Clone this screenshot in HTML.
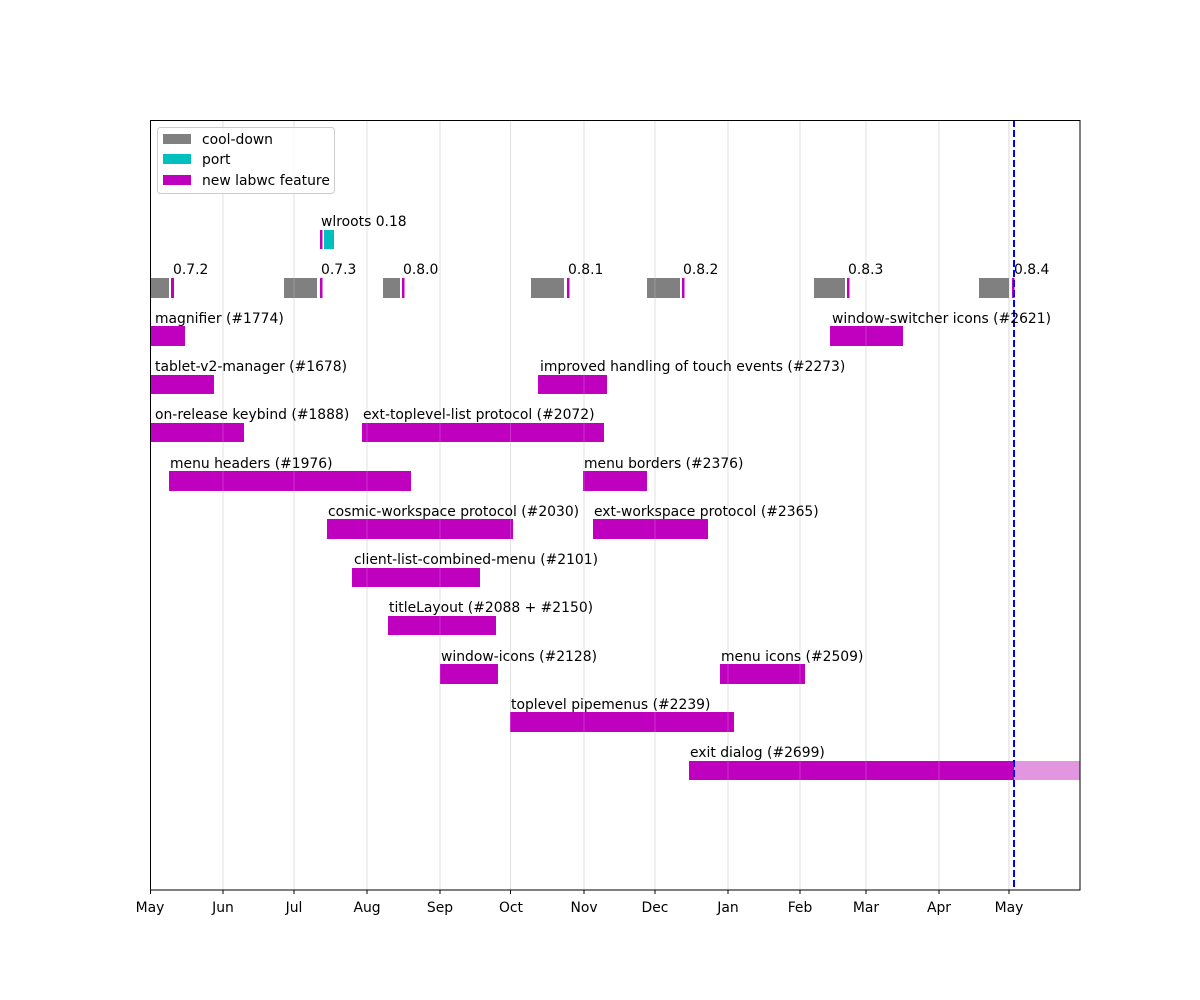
<!DOCTYPE html>
<html><head><meta charset="utf-8"><style>html,body{margin:0;padding:0;background:#fff}svg{display:block}</style></head>
<body>
<svg width="1200" height="1000" xmlns="http://www.w3.org/2000/svg" font-family="DejaVu Sans, Liberation Sans, sans-serif" font-size="13.9" fill="#000">
<rect width="1200" height="1000" fill="#fff"/>
<!-- grid -->
<g stroke="#d9d9d9" stroke-width="1">
<line x1="223" y1="120" x2="223" y2="890"/>
<line x1="294" y1="120" x2="294" y2="890"/>
<line x1="367" y1="120" x2="367" y2="890"/>
<line x1="440" y1="120" x2="440" y2="890"/>
<line x1="510.5" y1="120" x2="510.5" y2="890"/>
<line x1="584" y1="120" x2="584" y2="890"/>
<line x1="655" y1="120" x2="655" y2="890"/>
<line x1="728" y1="120" x2="728" y2="890"/>
<line x1="800" y1="120" x2="800" y2="890"/>
<line x1="866" y1="120" x2="866" y2="890"/>
<line x1="939" y1="120" x2="939" y2="890"/>
<line x1="1009" y1="120" x2="1009" y2="890"/>
</g>
<!-- bars -->
<g>
<rect x="320" y="230" width="2.5" height="19" fill="#bf00bf"/>
<rect x="324" y="230" width="10" height="19" fill="#00bfbf"/>
<g fill="#808080">
<rect x="150" y="278" width="19" height="20"/>
<rect x="284" y="278" width="33" height="20"/>
<rect x="383" y="278" width="17" height="20"/>
<rect x="531" y="278" width="33" height="20"/>
<rect x="647" y="278" width="33" height="20"/>
<rect x="814" y="278" width="31" height="20"/>
<rect x="979" y="278" width="30" height="20"/>
</g>
<g fill="#bf00bf">
<rect x="171" y="278" width="3" height="20"/>
<rect x="320" y="278" width="2.5" height="20"/>
<rect x="402" y="278" width="2.5" height="20"/>
<rect x="567" y="278" width="2.5" height="20"/>
<rect x="682" y="278" width="2.5" height="20"/>
<rect x="847" y="278" width="2.5" height="20"/>
<rect x="1012" y="278" width="2.5" height="20"/>
<rect x="150" y="326" width="35" height="20"/>
<rect x="830" y="326" width="73" height="20"/>
<rect x="150" y="375" width="64" height="19"/>
<rect x="538" y="375" width="69" height="19"/>
<rect x="150" y="423" width="94" height="19"/>
<rect x="362" y="423" width="242" height="19"/>
<rect x="169" y="471" width="242" height="20"/>
<rect x="583" y="471" width="64" height="20"/>
<rect x="327" y="519" width="186" height="20"/>
<rect x="593" y="519" width="115" height="20"/>
<rect x="352" y="568" width="128" height="19"/>
<rect x="388" y="616" width="108" height="19"/>
<rect x="440" y="664" width="58" height="20"/>
<rect x="720" y="664" width="85" height="20"/>
<rect x="510" y="712" width="224" height="20"/>
<rect x="689" y="761" width="325" height="19"/>
</g>
<rect x="1014" y="761" width="66" height="19" fill="#e396e0"/>
</g>
<g stroke="#fff" stroke-width="1" opacity="0.2">
<line x1="223" y1="120" x2="223" y2="890"/>
<line x1="294" y1="120" x2="294" y2="890"/>
<line x1="367" y1="120" x2="367" y2="890"/>
<line x1="440" y1="120" x2="440" y2="890"/>
<line x1="510.5" y1="120" x2="510.5" y2="890"/>
<line x1="584" y1="120" x2="584" y2="890"/>
<line x1="655" y1="120" x2="655" y2="890"/>
<line x1="728" y1="120" x2="728" y2="890"/>
<line x1="800" y1="120" x2="800" y2="890"/>
<line x1="866" y1="120" x2="866" y2="890"/>
<line x1="939" y1="120" x2="939" y2="890"/>
</g>
<line x1="1014" y1="120" x2="1014" y2="890" stroke="#0000ff" stroke-width="2" stroke-dasharray="7,3"/>
<rect x="150.5" y="120.5" width="929.5" height="769.5" fill="none" stroke="#000" stroke-width="1"/>
<!-- legend -->
<rect x="157.5" y="127.5" width="177" height="66" rx="3" fill="#fff" fill-opacity="0.8" stroke="#ccc"/>
<rect x="163" y="134" width="28" height="10" fill="#808080"/>
<rect x="163" y="154" width="28" height="10" fill="#00bfbf"/>
<rect x="163" y="175" width="28" height="10" fill="#bf00bf"/>
<text x="202" y="144">cool-down</text>
<text x="202" y="164">port</text>
<text x="202" y="185">new labwc feature</text>
<!-- labels -->
<text x="321" y="226">wlroots 0.18</text>
<text x="173" y="274">0.7.2</text>
<text x="321" y="274">0.7.3</text>
<text x="403" y="274">0.8.0</text>
<text x="568" y="274">0.8.1</text>
<text x="683" y="274">0.8.2</text>
<text x="848" y="274">0.8.3</text>
<text x="1014" y="274">0.8.4</text>
<text x="155" y="323">magnifier (#1774)</text>
<text x="832" y="323">window-switcher icons (#2621)</text>
<text x="155" y="371">tablet-v2-manager (#1678)</text>
<text x="540" y="371">improved handling of touch events (#2273)</text>
<text x="155" y="419">on-release keybind (#1888)</text>
<text x="363" y="419">ext-toplevel-list protocol (#2072)</text>
<text x="170" y="468">menu headers (#1976)</text>
<text x="584" y="468">menu borders (#2376)</text>
<text x="328" y="516">cosmic-workspace protocol (#2030)</text>
<text x="594" y="516">ext-workspace protocol (#2365)</text>
<text x="354" y="564">client-list-combined-menu (#2101)</text>
<text x="389" y="612">titleLayout (#2088 + #2150)</text>
<text x="441" y="661">window-icons (#2128)</text>
<text x="721" y="661">menu icons (#2509)</text>
<text x="511" y="709">toplevel pipemenus (#2239)</text>
<text x="690" y="757">exit dialog (#2699)</text>
<!-- x axis -->
<g stroke="#000">
<line x1="150.5" y1="890" x2="150.5" y2="894"/>
<line x1="223" y1="890" x2="223" y2="894"/>
<line x1="294" y1="890" x2="294" y2="894"/>
<line x1="367" y1="890" x2="367" y2="894"/>
<line x1="440" y1="890" x2="440" y2="894"/>
<line x1="510.5" y1="890" x2="510.5" y2="894"/>
<line x1="584" y1="890" x2="584" y2="894"/>
<line x1="655" y1="890" x2="655" y2="894"/>
<line x1="728" y1="890" x2="728" y2="894"/>
<line x1="800" y1="890" x2="800" y2="894"/>
<line x1="866" y1="890" x2="866" y2="894"/>
<line x1="939" y1="890" x2="939" y2="894"/>
<line x1="1009" y1="890" x2="1009" y2="894"/>
</g>
<g text-anchor="middle">
<text x="150" y="912">May</text>
<text x="223" y="912">Jun</text>
<text x="294" y="912">Jul</text>
<text x="367" y="912">Aug</text>
<text x="440" y="912">Sep</text>
<text x="511" y="912">Oct</text>
<text x="584" y="912">Nov</text>
<text x="655" y="912">Dec</text>
<text x="728" y="912">Jan</text>
<text x="800" y="912">Feb</text>
<text x="866" y="912">Mar</text>
<text x="939" y="912">Apr</text>
<text x="1009" y="912">May</text>
</g>
</svg>
</body></html>
